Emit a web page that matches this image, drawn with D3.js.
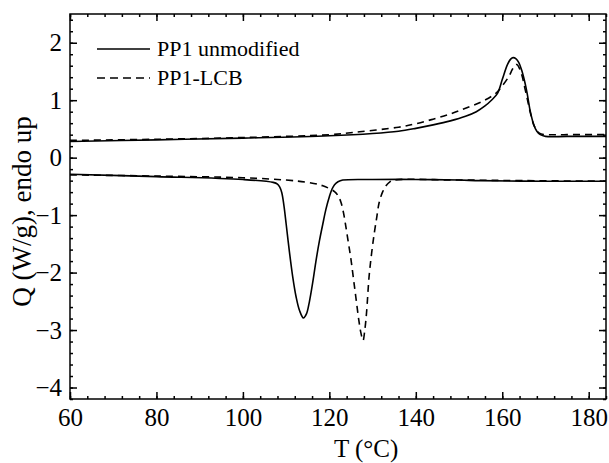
<!DOCTYPE html>
<html>
<head>
<meta charset="utf-8">
<script src="https://cdn.jsdelivr.net/npm/d3@7"></script>
<style>
  body { margin: 0; background: #fff; }
</style>
</head>
<body>
<div id="chart"></div>
<script>
// heating scans (upper curves)
var heatT_unmod = [60, 80, 100, 120, 130, 136, 140, 144, 148, 151.5, 154, 156, 157.5, 158.9, 160, 161.2, 162, 162.5, 163.2, 163.8, 164.5, 165.2, 165.8, 166.5, 167.3, 168, 168.8, 170, 175, 184];
var heatQ_unmod = [0.28, 0.31, 0.34, 0.38, 0.42, 0.46, 0.51, 0.57, 0.64, 0.72, 0.80, 0.90, 1.00, 1.12, 1.36, 1.62, 1.72, 1.74, 1.72, 1.66, 1.52, 1.32, 1.10, 0.80, 0.57, 0.46, 0.40, 0.37, 0.37, 0.37];
var heatT_lcb = [60, 80, 100, 120, 127, 136, 140, 144, 148, 151.5, 155.4, 158.5, 160, 161.5, 162.3, 162.9, 163.4, 164, 164.6, 165.2, 165.8, 166.5, 167.3, 168.2, 169, 170, 175, 184];
var heatQ_lcb = [0.30, 0.32, 0.35, 0.40, 0.45, 0.53, 0.59, 0.67, 0.76, 0.86, 0.98, 1.12, 1.25, 1.41, 1.53, 1.61, 1.62, 1.55, 1.42, 1.22, 1.02, 0.78, 0.57, 0.45, 0.41, 0.40, 0.40, 0.40];

// cooling scans (lower curves)
var coolT_unmod = [60, 80, 100, 107, 108, 108.5, 109, 109.5, 110, 110.7, 111.5, 112.3, 113.1, 114, 114.7, 115.4, 116.2, 116.9, 117.7, 118.5, 119.2, 120, 120.6, 121.2, 122, 123.1, 130, 140, 150, 155, 170, 184];
var coolQ_unmod = [-0.29, -0.33, -0.38, -0.43, -0.46, -0.51, -0.61, -0.84, -1.15, -1.60, -2.06, -2.42, -2.66, -2.79, -2.72, -2.50, -2.15, -1.80, -1.45, -1.15, -0.90, -0.68, -0.55, -0.47, -0.42, -0.39, -0.38, -0.38, -0.39, -0.40, -0.41, -0.41];
var coolT_lcb = [60, 80, 100, 110, 115, 118.5, 121.2, 122, 122.7, 123.3, 123.8, 124.4, 125, 125.6, 126.2, 126.8, 127.3, 127.8, 128.2, 128.6, 129.2, 129.8, 130.4, 131, 131.5, 132.3, 133.1, 134, 135, 150, 165, 184];
var coolQ_lcb = [-0.30, -0.32, -0.35, -0.39, -0.43, -0.49, -0.59, -0.66, -0.78, -0.97, -1.19, -1.48, -1.77, -2.12, -2.47, -2.82, -3.05, -3.18, -3.00, -2.70, -2.06, -1.65, -1.31, -1.02, -0.79, -0.60, -0.49, -0.42, -0.39, -0.39, -0.40, -0.41];

var xTicks = [60, 80, 100, 120, 140, 160, 180];
var yTicks = [-4, -3, -2, -1, 0, 1, 2];
var legendLabels = ["PP1 unmodified", "PP1-LCB"];

var FONT = "'Liberation Serif', 'Times New Roman', Times, serif";

var W = 609, H = 463;
var margin = { top: 14, right: 3, bottom: 64, left: 70 };
var width = W - margin.left - margin.right,
    height = H - margin.top - margin.bottom;

var svg = d3.select("#chart").append("svg")
    .attr("width", W).attr("height", H)
    .append("g")
    .attr("transform", "translate(" + margin.left + "," + margin.top + ")");

var x = d3.scaleLinear().domain([60, 184]).range([0, width]);
var y = d3.scaleLinear().domain([-4.2, 2.5]).range([height, 0]);

var minorX = d3.range(60, 184.01, 4);
var minorY = d3.range(-4.2, 2.51, 0.2).map(function (v) { return Math.round(v * 10) / 10; });

// ticks, all pointing inward
function addAxis(gen, transform, values, size, labels, pad) {
    var g = svg.append("g").attr("transform", transform)
        .call(gen.tickValues(values).tickSize(-size).tickPadding(pad || 9)
            .tickFormat(labels ? d3.format("d") : ""));
    g.attr("font-family", null);
    g.select(".domain").remove();
    g.selectAll("line").attr("stroke", "#000").attr("stroke-width", 1.5);
    g.selectAll("text")
        .style("font-family", FONT)
        .style("font-size", "25px")
        .attr("fill", "#000");
    return g;
}
addAxis(d3.axisBottom(x), "translate(0," + height + ")", minorX, 3, false);
addAxis(d3.axisBottom(x), "translate(0," + height + ")", xTicks, 7, true, 9);
addAxis(d3.axisTop(x), "translate(0,0)", minorX, 3, false);
addAxis(d3.axisTop(x), "translate(0,0)", xTicks, 7, false);
addAxis(d3.axisLeft(y), "translate(0,0)", minorY, 3, false);
addAxis(d3.axisLeft(y), "translate(0,0)", yTicks, 7, true, 8);
addAxis(d3.axisRight(y), "translate(" + width + ",0)", minorY, 3, false);
addAxis(d3.axisRight(y), "translate(" + width + ",0)", yTicks, 7, false);

svg.append("rect")
    .attr("width", width).attr("height", height)
    .attr("fill", "none").attr("stroke", "#000").attr("stroke-width", 1.5);

// curves
var line = d3.line()
    .x(function (d) { return x(d[0]); })
    .y(function (d) { return y(d[1]); })
    .curve(d3.curveCatmullRom.alpha(0.5));

function zip(a, b) { return a.map(function (v, i) { return [v, b[i]]; }); }

var curves = [
    { pts: zip(heatT_unmod, heatQ_unmod), dash: null },
    { pts: zip(heatT_lcb, heatQ_lcb), dash: "7,5" },
    { pts: zip(coolT_unmod, coolQ_unmod), dash: null },
    { pts: zip(coolT_lcb, coolQ_lcb), dash: "7,5" }
];

svg.selectAll(".curve")
    .data(curves)
    .enter()
    .append("path")
    .attr("class", "curve")
    .attr("fill", "none")
    .attr("stroke", "#000")
    .attr("stroke-width", 1.6)
    .attr("stroke-dasharray", function (d) { return d.dash; })
    .attr("d", function (d) { return line(d.pts); });

// legend
var legend = svg.append("g").attr("transform", "translate(27,35)");
legendLabels.forEach(function (lab, i) {
    legend.append("line")
        .attr("x1", 0).attr("x2", 53)
        .attr("y1", i * 29).attr("y2", i * 29)
        .attr("stroke", "#000").attr("stroke-width", 1.6)
        .attr("stroke-dasharray", i === 1 ? "8,5" : null);
    legend.append("text")
        .attr("x", 60).attr("y", i * 29 + 7)
        .style("font-family", FONT)
        .style("font-size", "22px")
        .text(lab);
});

// axis titles
svg.append("text")
    .attr("text-anchor", "middle")
    .attr("x", x(128.5))
    .attr("y", height + 58)
    .style("font-family", FONT)
    .style("font-size", "25px")
    .text("T (°C)");

svg.append("text")
    .attr("text-anchor", "middle")
    .attr("transform", "translate(-39," + (height / 2 + 5) + ") rotate(-90)")
    .style("font-family", FONT)
    .style("font-size", "27px")
    .text("Q (W/g), endo up");
</script>
</body>
</html>
